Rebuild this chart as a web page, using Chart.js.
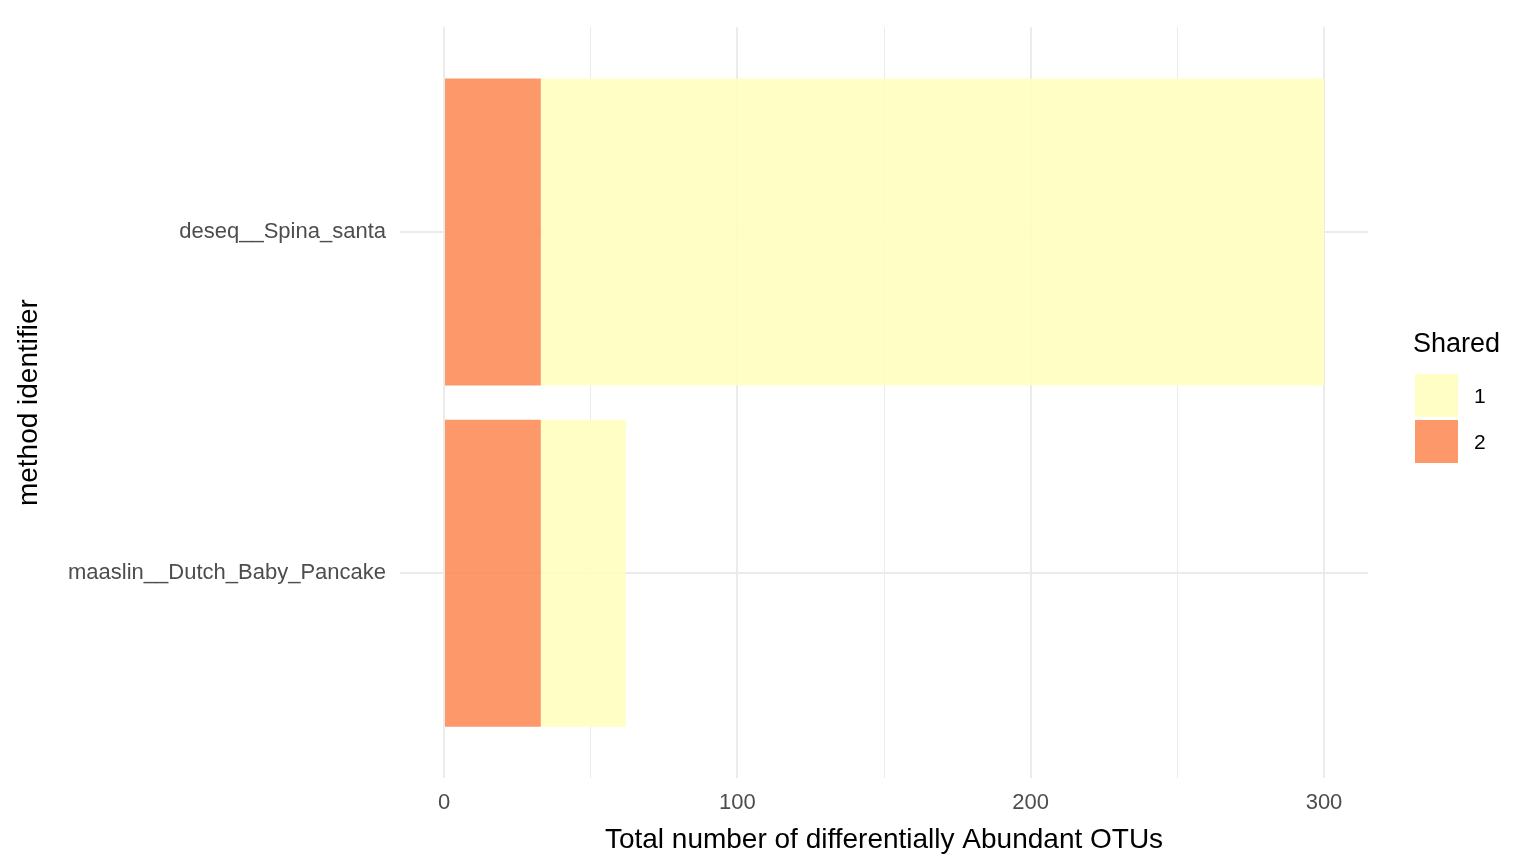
<!DOCTYPE html>
<html>
<head>
<meta charset="utf-8">
<script src="https://cdn.jsdelivr.net/npm/chart.js@4"></script>
<style>
  body { margin: 0; background: #fff; font-family: "Liberation Sans", Arial, sans-serif; }
  #wrap { position: relative; width: 1536px; height: 865px; }
  .legend-title { position: absolute; left: 1413px; top: 328px; font-size: 27px; color: #000; }
  .key { position: absolute; left: 1415px; width: 43px; height: 43px; }
  .key-label { position: absolute; left: 1474px; font-size: 21px; color: #000; }
</style>
</head>
<body>
<div id="wrap">
  <canvas id="chart" width="1536" height="865"></canvas>
  <div class="legend-title">Shared</div>
  <div class="key" style="top:374px;background:rgba(255,255,191,0.9)"></div>
  <div class="key-label" style="top:384px">1</div>
  <div class="key" style="top:420px;background:rgba(252,141,89,0.9)"></div>
  <div class="key-label" style="top:430px">2</div>
</div>
<script>
const methods = ['maaslin__Dutch_Baby_Pancake', 'deseq__Spina_santa'];
const methodPos = [1, 2];
const shared2 = [33, 33];
const shared1 = [29, 267];
const xTicks = [0, 50, 100, 150, 200, 250, 300];

const ctx = document.getElementById('chart').getContext('2d');
new Chart(ctx, {
  type: 'bar',
  data: {
    datasets: [
      {
        label: '2',
        data: methodPos.map((p, i) => ({ y: p, x: shared2[i] })),
        backgroundColor: 'rgba(252,141,89,0.9)',
        barPercentage: 0.9, categoryPercentage: 1,
      },
      {
        label: '1',
        data: methodPos.map((p, i) => ({ y: p, x: shared1[i] })),
        backgroundColor: 'rgba(255,255,191,0.9)',
        barPercentage: 0.9, categoryPercentage: 1,
      },
    ],
  },
  options: {
    indexAxis: 'y',
    responsive: false,
    animation: false,
    layout: { padding: { top: 15, right: 168, left: 0, bottom: 0 } },
    plugins: { legend: { display: false }, tooltip: { enabled: false } },
    scales: {
      x: {
        type: 'linear', stacked: true, min: -15, max: 315,
        afterBuildTicks: (s) => { s.ticks = xTicks.map((v) => ({ value: v })); },
        afterFit: (s) => { s.height = 87; },
        border: { display: false },
        grid: {
          color: '#ebebeb',
          lineWidth: (c) => (c.tick && c.tick.value % 100 === 0 ? 2 : 1),
          drawTicks: false,
        },
        ticks: {
          padding: 12, color: '#4d4d4d', font: { size: 22, family: 'Liberation Sans' },
          callback: (v) => (v % 100 === 0 ? String(v) : ''),
          autoSkip: false, maxRotation: 0,
        },
        title: {
          display: true, text: 'Total number of differentially Abundant OTUs',
          color: '#000', font: { size: 28, family: 'Liberation Sans' }, padding: { top: 0, bottom: 8 },
        },
      },
      y: {
        type: 'linear', stacked: true, min: 0.4, max: 2.6, offset: false,
        afterBuildTicks: (s) => { s.ticks = methodPos.map((v) => ({ value: v })); },
        afterFit: (s) => { s.width = 400; },
        border: { display: false },
        grid: { color: '#ebebeb', lineWidth: 2, drawTicks: false, offset: false },
        ticks: {
          padding: 14, color: '#4d4d4d', font: { size: 22, family: 'Liberation Sans' },
          callback: (v) => methods[methodPos.indexOf(v)] || '',
        },
        title: {
          display: true, text: 'method identifier',
          color: '#000', font: { size: 28, family: 'Liberation Sans' }, padding: { top: 12, bottom: 4 },
        },
      },
    },
  },
});
</script>
</body>
</html>
